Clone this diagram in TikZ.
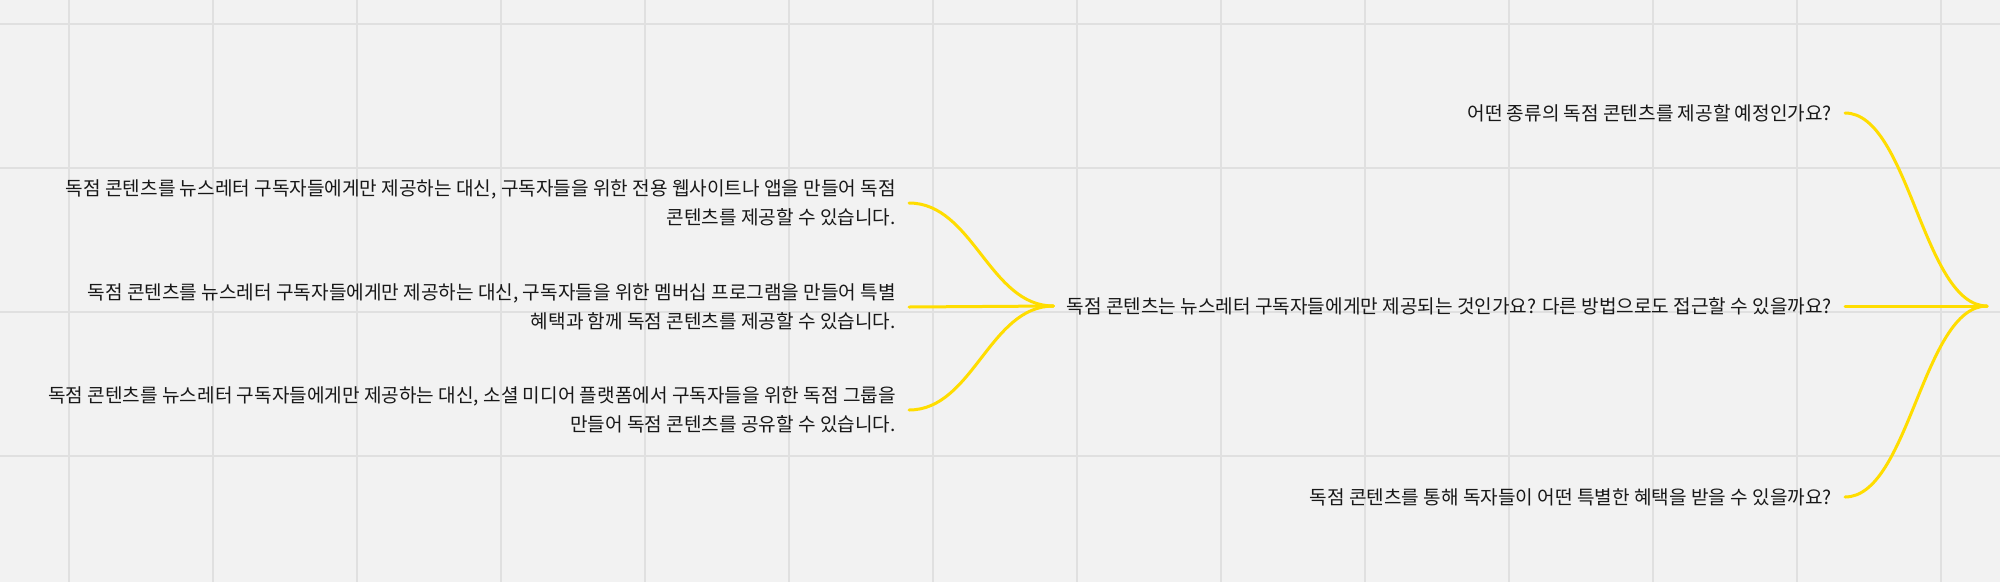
\documentclass[tikz,border=0pt]{standalone}
\usepackage{fontspec}
\newfontfamily\kr{Noto Sans CJK KR}
\definecolor{bgc}{RGB}{242,242,242}
\definecolor{gridc}{RGB}{224,224,224}
\definecolor{linkc}{RGB}{255,221,0}
\definecolor{txtc}{RGB}{24,24,24}
\begin{document}
\begin{tikzpicture}[x=1pt,y=-1pt,
  lbl/.style={font=\kr\fontsize{19.1}{29.5}\selectfont, text=txtc, inner xsep=13pt, inner ysep=0pt, align=right},
  conn/.style={draw=linkc, line width=3pt, line cap=round},
  gridline/.style={draw=gridc, line width=2pt}]
\fill[bgc] (0,0) rectangle (2000,582);
\useasboundingbox (0,0) rectangle (2000,582);
\foreach \i in {0,...,13} \draw[gridline] (69+144*\i,0) -- (69+144*\i,582);
\foreach \j in {24,168,312,456} \draw[gridline] (0,\j) -- (2000,\j);

\coordinate (hub) at (1987,306);
\node[lbl, anchor=east] (q1) at (1845,113) {어떤 종류의 독점 콘텐츠를 제공할 예정인가요?};
\node[lbl, anchor=east] (q2) at (1845,306) {독점 콘텐츠는 뉴스레터 구독자들에게만 제공되는 것인가요? 다른 방법으로도 접근할 수 있을까요?};
\node[lbl, anchor=east] (q3) at (1845,497) {독점 콘텐츠를 통해 독자들이 어떤 특별한 혜택을 받을 수 있을까요?};

\node[lbl, anchor=east] (a1) at (909,203) {독점 콘텐츠를 뉴스레터 구독자들에게만 제공하는 대신, 구독자들을 위한 전용 웹사이트나 앱을 만들어 독점\\콘텐츠를 제공할 수 있습니다.};
\node[lbl, anchor=east] (a2) at (909,307) {독점 콘텐츠를 뉴스레터 구독자들에게만 제공하는 대신, 구독자들을 위한 멤버십 프로그램을 만들어 특별\\혜택과 함께 독점 콘텐츠를 제공할 수 있습니다.};
\node[lbl, anchor=east] (a3) at (909,410) {독점 콘텐츠를 뉴스레터 구독자들에게만 제공하는 대신, 소셜 미디어 플랫폼에서 구독자들을 위한 독점 그룹을\\만들어 독점 콘텐츠를 공유할 수 있습니다.};

\draw[conn] (q1.east) .. controls +(64,0) and +(-64,0) .. (hub);
\draw[conn] (q2.east) -- (hub);
\draw[conn] (q3.east) .. controls +(64,0) and +(-64,0) .. (hub);
\draw[conn] (a1.east) .. controls +(64,0) and +(-64,0) .. (q2.west);
\draw[conn] (a2.east) -- (q2.west);
\draw[conn] (a3.east) .. controls +(64,0) and +(-64,0) .. (q2.west);
\end{tikzpicture}
\end{document}
